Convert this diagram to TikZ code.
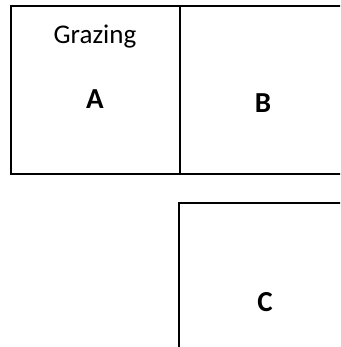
\documentclass[tikz,border=0pt]{standalone}
\usepackage{fontspec}
\setmainfont{Carlito}
\usetikzlibrary{positioning}

\begin{document}
\begin{tikzpicture}[x=1pt, y=-1pt, every node/.style={font=\fontsize{27}{32}\selectfont},
  field/.style={rectangle, draw, line width=2pt, outer sep=0pt, inner sep=0pt, minimum height=168pt},
  tag/.style={font=\fontsize{29}{34}\selectfont\bfseries},
]
\useasboundingbox (0,0) rectangle (340,347);
\clip (0,0) rectangle (340,347);
\node[field, minimum width=169pt, anchor=north west] (fieldA) at (11,6) {};
\node[field, minimum width=166pt, anchor=west] (fieldB) at (fieldA.east) {};
\node[field, minimum width=172pt, minimum height=146pt, anchor=north west] (fieldC) at (179,203) {};
\node (graze) at (95,37) {Grazing};
\node[tag] (labA) at (95,99) {A};
\node[tag] (labB) at (263,103) {B};
\node[tag] (labC) at (265,302) {C};
\end{tikzpicture}
\end{document}
